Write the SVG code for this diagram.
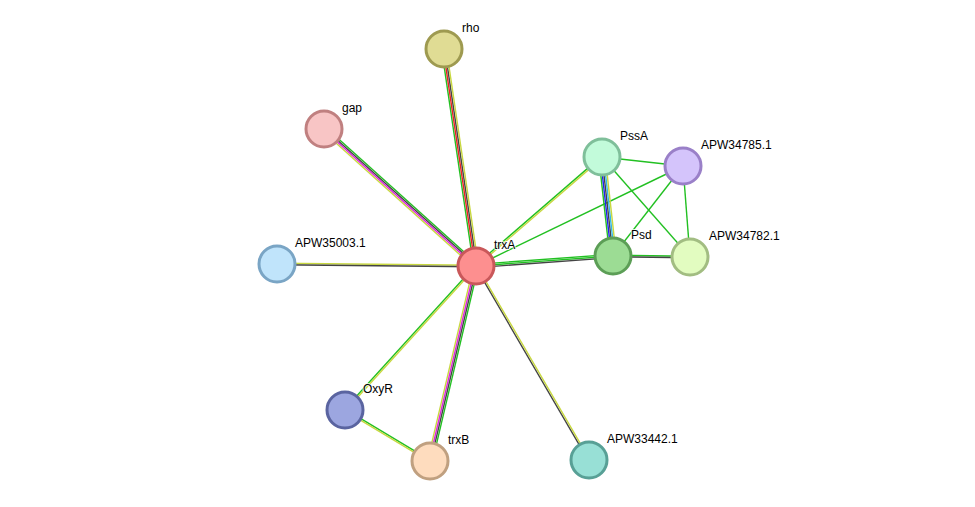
<svg xmlns="http://www.w3.org/2000/svg" width="975" height="507" viewBox="0 0 975 507">
<style>
line{stroke-width:1.4;fill:none}
.g{stroke:#22c022}.y{stroke:#c8d840}.k{stroke:#444}.r{stroke:#f02020}.m{stroke:#e020e0}.b{stroke:#2020f0}.c{stroke:#30b8e8}
circle{stroke-width:3}
text{font-family:"Liberation Sans",Arial,sans-serif;font-size:12px;fill:#000;paint-order:stroke;stroke:#fff;stroke-width:2px;stroke-opacity:0.8}
</style>
<rect width="975" height="507" fill="#fff"/>
<g id="edges">
<g><line class="g" x1="476" y1="266" x2="444" y2="49" transform="translate(-2.38,0.35)"/><line class="r" x1="476" y1="266" x2="444" y2="49" transform="translate(-0.79,0.12)"/><line class="k" x1="476" y1="266" x2="444" y2="49" transform="translate(0.79,-0.12)"/><line class="y" x1="476" y1="266" x2="444" y2="49" transform="translate(2.38,-0.35)"/></g>
<g><line class="g" x1="476" y1="266" x2="324" y2="129" transform="translate(1.6,-1.78)"/><line class="k" x1="476" y1="266" x2="324" y2="129" transform="translate(0.53,-0.59)"/><line class="m" x1="476" y1="266" x2="324" y2="129" transform="translate(-0.53,0.59)"/><line class="y" x1="476" y1="266" x2="324" y2="129" transform="translate(-1.6,1.78)"/></g>
<g><line class="y" x1="476" y1="266" x2="277" y2="264" transform="translate(0,-0.8)"/><line class="k" x1="476" y1="266" x2="277" y2="264" transform="translate(0,0.8)"/></g>
<g><line class="g" x1="476" y1="266" x2="602" y2="157" transform="translate(-0.52,-0.6)"/><line class="y" x1="476" y1="266" x2="602" y2="157" transform="translate(0.52,0.6)"/></g>
<line class="g" x1="476" y1="266" x2="683" y2="166"/>
<g><line class="g" x1="476" y1="266" x2="613" y2="256" transform="translate(0,-1.6)"/><line class="g" x1="476" y1="266" x2="613" y2="256"/><line class="k" x1="476" y1="266" x2="613" y2="256" transform="translate(0,1.6)"/></g>
<g><line class="g" x1="613" y1="256" x2="690" y2="257" transform="translate(0,-0.8)"/><line class="k" x1="613" y1="256" x2="690" y2="257" transform="translate(0,0.8)"/></g>
<g><line class="g" x1="602" y1="157" x2="613" y2="256" transform="translate(-3.2,0.35)"/><line class="b" x1="602" y1="157" x2="613" y2="256" transform="translate(-1.6,0.18)"/><line class="k" x1="602" y1="157" x2="613" y2="256"/><line class="c" x1="602" y1="157" x2="613" y2="256" transform="translate(1.6,-0.18)"/><line class="y" x1="602" y1="157" x2="613" y2="256" transform="translate(3.2,-0.35)"/></g>
<line class="g" x1="602" y1="157" x2="683" y2="166"/>
<line class="g" x1="602" y1="157" x2="690" y2="257"/>
<line class="g" x1="683" y1="166" x2="613" y2="256"/>
<line class="g" x1="683" y1="166" x2="690" y2="257"/>
<g><line class="g" x1="476" y1="266" x2="345" y2="410" transform="translate(-0.59,-0.54)"/><line class="y" x1="476" y1="266" x2="345" y2="410" transform="translate(0.59,0.54)"/></g>
<g><line class="g" x1="345" y1="410" x2="430" y2="461" transform="translate(0.41,-0.69)"/><line class="y" x1="345" y1="410" x2="430" y2="461" transform="translate(-0.41,0.69)"/></g>
<g><line class="y" x1="476" y1="266" x2="430" y2="461" transform="translate(-2.33,-0.55)"/><line class="m" x1="476" y1="266" x2="430" y2="461" transform="translate(-0.78,-0.18)"/><line class="k" x1="476" y1="266" x2="430" y2="461" transform="translate(0.78,0.18)"/><line class="g" x1="476" y1="266" x2="430" y2="461" transform="translate(2.33,0.55)"/></g>
<g><line class="k" x1="476" y1="266" x2="589" y2="460" transform="translate(-0.69,0.4)"/><line class="y" x1="476" y1="266" x2="589" y2="460" transform="translate(0.69,-0.4)"/></g>
</g>
<g id="rho"><circle cx="444" cy="49" r="18" fill="#e0dc94" stroke="#9e9a50"/><text x="462" y="32">rho</text></g>
<g id="gap"><circle cx="324" cy="129" r="18" fill="#f8c5c5" stroke="#c08080"/><text x="342" y="112">gap</text></g>
<g id="APW35003.1"><circle cx="277" cy="264" r="18" fill="#c0e4fb" stroke="#7aa5c5"/><text x="295" y="247">APW35003.1</text></g>
<g id="PssA"><circle cx="602" cy="157" r="18" fill="#c2fbda" stroke="#7fbf9a"/><text x="620" y="140">PssA</text></g>
<g id="APW34785.1"><circle cx="683" cy="166" r="18" fill="#d4c4fb" stroke="#9a80c8"/><text x="701" y="149">APW34785.1</text></g>
<g id="Psd"><circle cx="613" cy="256" r="18" fill="#9cdc94" stroke="#5c9e56"/><text x="631" y="239">Psd</text></g>
<g id="APW34782.1"><circle cx="690" cy="257" r="18" fill="#e2fcc0" stroke="#a2bd82"/><text x="709" y="240">APW34782.1</text></g>
<g id="trxA"><circle cx="476" cy="266" r="18" fill="#fd8f8f" stroke="#c9585a"/><text x="494" y="249">trxA</text></g>
<g id="OxyR"><circle cx="345" cy="410" r="18" fill="#9ca6e0" stroke="#5a64a0"/><text x="363" y="393">OxyR</text></g>
<g id="trxB"><circle cx="430" cy="461" r="18" fill="#fedcbe" stroke="#c0a080"/><text x="448" y="444">trxB</text></g>
<g id="APW33442.1"><circle cx="589" cy="460" r="18" fill="#98e0d6" stroke="#58a096"/><text x="607" y="443">APW33442.1</text></g>
</svg>
